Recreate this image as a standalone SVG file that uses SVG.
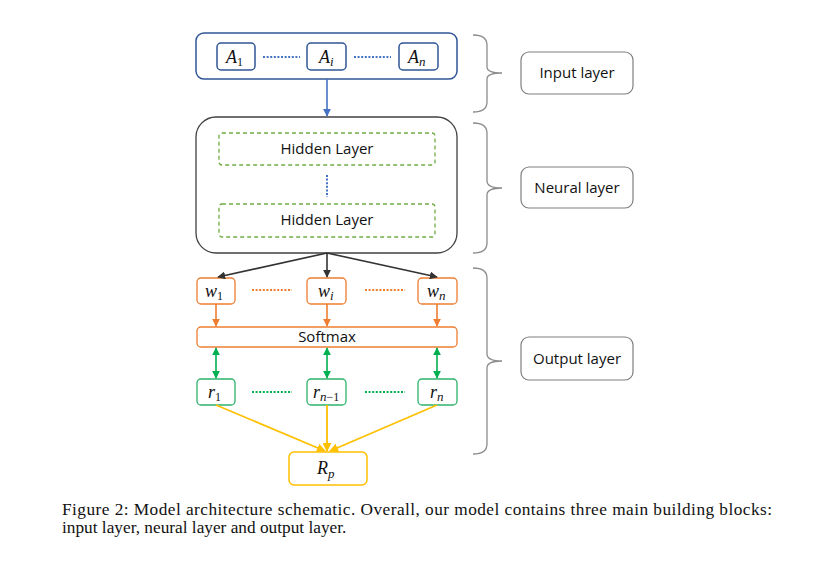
<svg xmlns="http://www.w3.org/2000/svg" width="829" height="570" viewBox="0 0 829 570">
<style>
.bg{fill:#fff}
.lbl{font-family:"Open Sans","Noto Sans","Liberation Sans",sans-serif;font-size:15px;fill:#111}
.math{font-family:"Liberation Serif","DejaVu Serif",serif;font-style:italic;font-size:18px;fill:#111}
.sub{font-style:normal;font-size:12px}
.subi{font-style:italic;font-size:13px}
.cap{font-family:"Liberation Serif","Times New Roman",serif;font-size:17.3px;fill:#111}
.blue{fill:#fff;stroke:#2F5597;stroke-width:1.5}
.orange{fill:#fff;stroke:#ED7D31;stroke-width:1.3}
.green{fill:#fff;stroke:#2DB36B;stroke-width:1.3}
.yellow{fill:#fff;stroke:#FFC000;stroke-width:1.5}
.gray{fill:#fff;stroke:#7f7f7f;stroke-width:1.2}
.hidden{fill:#fff;stroke:#70AD47;stroke-width:1.3;stroke-dasharray:4 3}
.brace{fill:none;stroke:#8c8c8c;stroke-width:1.3}
.dots{fill:none;stroke-width:2;stroke-dasharray:2 1.6}
</style>
<defs>
<marker id="mBlue" viewBox="0 0 10 10" refX="9" refY="5" markerWidth="5" markerHeight="5" orient="auto"><path d="M0,0L10,5L0,10z" fill="#4472C4"/></marker>
<marker id="mBlack" viewBox="0 0 10 10" refX="9" refY="5" markerWidth="5" markerHeight="5" orient="auto"><path d="M0,0L10,5L0,10z" fill="#333"/></marker>
<marker id="mOrange" viewBox="0 0 10 10" refX="9" refY="5" markerWidth="5" markerHeight="5" orient="auto"><path d="M0,0L10,5L0,10z" fill="#ED7D31"/></marker>
<marker id="mGreen" viewBox="0 0 10 10" refX="9" refY="5" markerWidth="5" markerHeight="5" orient="auto-start-reverse"><path d="M0,0L10,5L0,10z" fill="#00B050"/></marker>
<marker id="mYellow" viewBox="0 0 10 10" refX="9" refY="5" markerWidth="5" markerHeight="5" orient="auto"><path d="M0,0L10,5L0,10z" fill="#FFC000"/></marker>
</defs>
<rect class="bg" x="0" y="0" width="829" height="570"/>

<g id="input-block">
<rect class="blue" x="196" y="33" width="261" height="46" rx="8"/>
<g id="A1"><rect class="blue" x="217" y="43" width="38" height="27" rx="4" stroke-width="1.3"/><text class="math" x="226" y="63">A<tspan class="sub" dy="3">1</tspan></text></g>
<g id="Ai"><rect class="blue" x="307" y="43" width="39" height="27" rx="4" stroke-width="1.3"/><text class="math" x="319" y="63">A<tspan class="subi" dy="3">i</tspan></text></g>
<g id="An"><rect class="blue" x="399" y="43" width="39" height="27" rx="4" stroke-width="1.3"/><text class="math" x="408" y="63">A<tspan class="subi" dy="3">n</tspan></text></g>
<path class="dots" stroke="#4472C4" d="M263,57H300M354,57H391"/>
</g>

<g id="neural-block">
<rect fill="#fff" stroke="#404040" stroke-width="1.3" x="196" y="117" width="261" height="136" rx="20"/>
<g id="hidden1"><rect class="hidden" x="219" y="133" width="216" height="32" rx="3"/><text class="lbl" x="327" y="154" text-anchor="middle">Hidden Layer</text></g>
<g id="hidden2"><rect class="hidden" x="219" y="204" width="216" height="33" rx="3"/><text class="lbl" x="327" y="225" text-anchor="middle">Hidden Layer</text></g>
<path class="dots" stroke="#4472C4" d="M327,175V197"/>
</g>

<g id="w1"><rect class="orange" x="197" y="278" width="38" height="26" rx="4"/><text class="math" x="205" y="297">w<tspan class="sub" dy="3">1</tspan></text></g>
<g id="wi"><rect class="orange" x="307" y="278" width="39" height="26" rx="4"/><text class="math" x="318" y="297">w<tspan class="subi" dy="3">i</tspan></text></g>
<g id="wn"><rect class="orange" x="418" y="278" width="39" height="26" rx="4"/><text class="math" x="427" y="297">w<tspan class="subi" dy="3">n</tspan></text></g>
<path class="dots" stroke="#ED7D31" d="M252,290H292M365,290H405"/>

<g id="softmax"><rect class="orange" x="197" y="327" width="260" height="20" rx="4"/><text class="lbl" x="327" y="342" text-anchor="middle" font-size="15.5">Softmax</text></g>

<g id="r1"><rect class="green" x="197" y="379" width="38" height="26" rx="4"/><text class="math" x="208" y="398">r<tspan class="sub" dy="3">1</tspan></text></g>
<g id="rn1"><rect class="green" x="307" y="379" width="39" height="26" rx="4"/><text class="math" x="313" y="398">r<tspan class="subi" dy="3">n</tspan><tspan class="sub" font-size="13">−1</tspan></text></g>
<g id="rn"><rect class="green" x="418" y="379" width="39" height="26" rx="4"/><text class="math" x="430" y="398">r<tspan class="subi" dy="3">n</tspan></text></g>
<path class="dots" stroke="#00B050" d="M252,392H292M365,392H405"/>

<g id="Rp"><rect class="yellow" x="289" y="452" width="78" height="33" rx="5"/><text class="math" x="317" y="474">R<tspan class="subi" dy="4">p</tspan></text></g>

<g id="braces">
<path class="brace" d="M473,35Q487,35 487,45V67Q487,73 502,73Q487,73 487,79V102Q487,112 473,112"/>
<path class="brace" d="M473,123Q487,123 487,133V181Q487,188 502,188Q487,188 487,195V243Q487,253 473,253"/>
<path class="brace" d="M473,268Q487,268 487,278V354Q487,361 502,361Q487,361 487,368V444Q487,454 473,454"/>
</g>
<g id="label-input"><rect class="gray" x="521" y="52" width="112" height="42" rx="8"/><text class="lbl" x="577" y="78" text-anchor="middle" font-size="16">Input layer</text></g>
<g id="label-neural"><rect class="gray" x="521" y="167" width="112" height="41" rx="8"/><text class="lbl" x="577" y="193" text-anchor="middle" font-size="16">Neural layer</text></g>
<g id="label-output"><rect class="gray" x="521" y="337" width="112" height="43" rx="8"/><text class="lbl" x="577" y="364" text-anchor="middle" font-size="16">Output layer</text></g>

<g id="connectors" fill="none">
<path stroke="#4472C4" stroke-width="1.6" d="M327,79V116" marker-end="url(#mBlue)"/>
<path stroke="#333" stroke-width="1.6" d="M327,253L218,277" marker-end="url(#mBlack)"/>
<path stroke="#333" stroke-width="1.6" d="M327,253V277" marker-end="url(#mBlack)"/>
<path stroke="#333" stroke-width="1.6" d="M327,253L437,277" marker-end="url(#mBlack)"/>
<path stroke="#ED7D31" stroke-width="1.6" d="M216,304V326" marker-end="url(#mOrange)"/>
<path stroke="#ED7D31" stroke-width="1.6" d="M327,304V326" marker-end="url(#mOrange)"/>
<path stroke="#ED7D31" stroke-width="1.6" d="M437,304V326" marker-end="url(#mOrange)"/>
<path stroke="#00B050" stroke-width="1.6" d="M216,348V378" marker-start="url(#mGreen)" marker-end="url(#mGreen)"/>
<path stroke="#00B050" stroke-width="1.6" d="M327,348V378" marker-start="url(#mGreen)" marker-end="url(#mGreen)"/>
<path stroke="#00B050" stroke-width="1.6" d="M437,348V378" marker-start="url(#mGreen)" marker-end="url(#mGreen)"/>
<path stroke="#FFC000" stroke-width="1.8" d="M216,405L325,451" marker-end="url(#mYellow)"/>
<path stroke="#FFC000" stroke-width="1.8" d="M327,405V451" marker-end="url(#mYellow)"/>
<path stroke="#FFC000" stroke-width="1.8" d="M437,405L330,451" marker-end="url(#mYellow)"/>
</g>

<g id="caption">
<text class="cap" x="62" y="515" textLength="710" lengthAdjust="spacing">Figure 2: Model architecture schematic. Overall, our model contains three main building blocks:</text>
<text class="cap" x="62" y="533">input layer, neural layer and output layer.</text>
</g>
</svg>
